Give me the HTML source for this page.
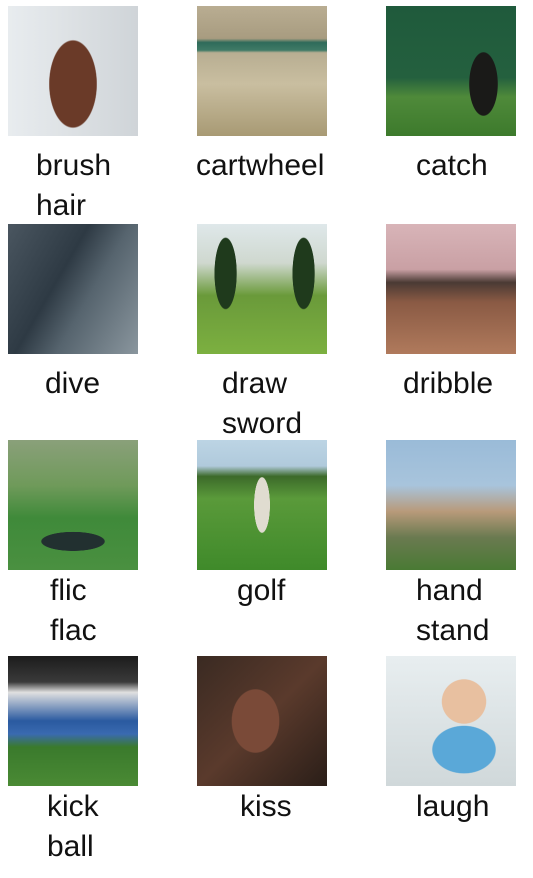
<!DOCTYPE html>
<html><head><meta charset="utf-8"><style>
html,body{margin:0;padding:0;background:#fff;width:533px;height:878px;overflow:hidden;position:relative;font-family:"Liberation Sans",sans-serif}
.img{position:absolute;width:130px;height:130px}
.lbl{position:absolute;font-size:30px;color:#111;line-height:40px;white-space:nowrap}
</style></head><body>
<div class="img" style="left:8px;top:6px;background:radial-gradient(ellipse 30% 55% at 50% 60%,#6a3a28 60%,transparent 62%),linear-gradient(90deg,#e8ecef,#dfe3e6 40%,#cfd4d8)"></div>
<div class="img" style="left:197px;top:6px;background:linear-gradient(180deg,#b9ad92 0%,#a89c80 25%,#2f6b5a 28%,#3f7a66 34%,#b8ae92 36%,#c9bea0 60%,#a89a74 100%)"></div>
<div class="img" style="left:386px;top:6px;background:radial-gradient(ellipse 18% 40% at 75% 60%,#1a1a18 60%,transparent 62%),linear-gradient(180deg,#1f5a3c 0%,#24603e 55%,#4f8a3a 70%,#3d7a2c 100%)"></div>
<div class="img" style="left:8px;top:224px;background:linear-gradient(120deg,#4a5660 0%,#2e3a44 40%,#56646e 60%,#8a969e 100%)"></div>
<div class="img" style="left:197px;top:224px;background:radial-gradient(ellipse 14% 45% at 22% 38%,#1f3a1c 60%,transparent 62%),radial-gradient(ellipse 14% 45% at 82% 38%,#1f3a1c 60%,transparent 62%),linear-gradient(180deg,#dfe8ea 0%,#cfd8cf 30%,#6a9a3a 55%,#7cb040 100%)"></div>
<div class="img" style="left:386px;top:224px;background:linear-gradient(180deg,#d8b4b8 0%,#c9a0a4 35%,#4a3a34 45%,#8a5a44 60%,#b07a5c 100%)"></div>
<div class="img" style="left:8px;top:440px;background:radial-gradient(ellipse 40% 12% at 50% 78%,#223030 60%,transparent 62%),linear-gradient(180deg,#8aa07a 0%,#6f9a5a 35%,#3f8a3a 60%,#4a9040 100%)"></div>
<div class="img" style="left:197px;top:440px;background:radial-gradient(ellipse 10% 35% at 50% 50%,#e0dcd0 60%,transparent 62%),linear-gradient(180deg,#bcd4e4 0%,#b0cadc 20%,#3c6a2a 28%,#5a9a3a 45%,#3f8a2a 100%)"></div>
<div class="img" style="left:386px;top:440px;background:linear-gradient(180deg,#9abbd8 0%,#a8c4dc 35%,#b89a7a 55%,#6a7a50 75%,#4a7a34 100%)"></div>
<div class="img" style="left:8px;top:656px;background:linear-gradient(180deg,#1c1c1c 0%,#3a3a3a 20%,#e0e0e0 28%,#2a5aa0 50%,#3a6ab0 60%,#3a7a2c 70%,#4a8a34 100%)"></div>
<div class="img" style="left:197px;top:656px;background:radial-gradient(ellipse 30% 40% at 45% 50%,#7a4a38 60%,transparent 62%),linear-gradient(135deg,#3a2a22,#5a3a2c 50%,#2a1e18)"></div>
<div class="img" style="left:386px;top:656px;background:radial-gradient(ellipse 28% 28% at 60% 35%,#e8c0a0 60%,transparent 62%),radial-gradient(ellipse 40% 30% at 60% 72%,#5aa8d8 60%,transparent 62%),linear-gradient(180deg,#e8eef0,#d0d8da)"></div>

<div class="lbl" style="left:36px;top:146px">brush<br>hair</div>
<div class="lbl" style="left:196px;top:146px">cartwheel</div>
<div class="lbl" style="left:416px;top:146px">catch</div>
<div class="lbl" style="left:45px;top:364px">dive</div>
<div class="lbl" style="left:222px;top:364px">draw<br>sword</div>
<div class="lbl" style="left:403px;top:364px">dribble</div>
<div class="lbl" style="left:50px;top:571px">flic<br>flac</div>
<div class="lbl" style="left:237px;top:571px">golf</div>
<div class="lbl" style="left:416px;top:571px">hand<br>stand</div>
<div class="lbl" style="left:47px;top:787px">kick<br>ball</div>
<div class="lbl" style="left:240px;top:787px">kiss</div>
<div class="lbl" style="left:416px;top:787px">laugh</div>
</body></html>
